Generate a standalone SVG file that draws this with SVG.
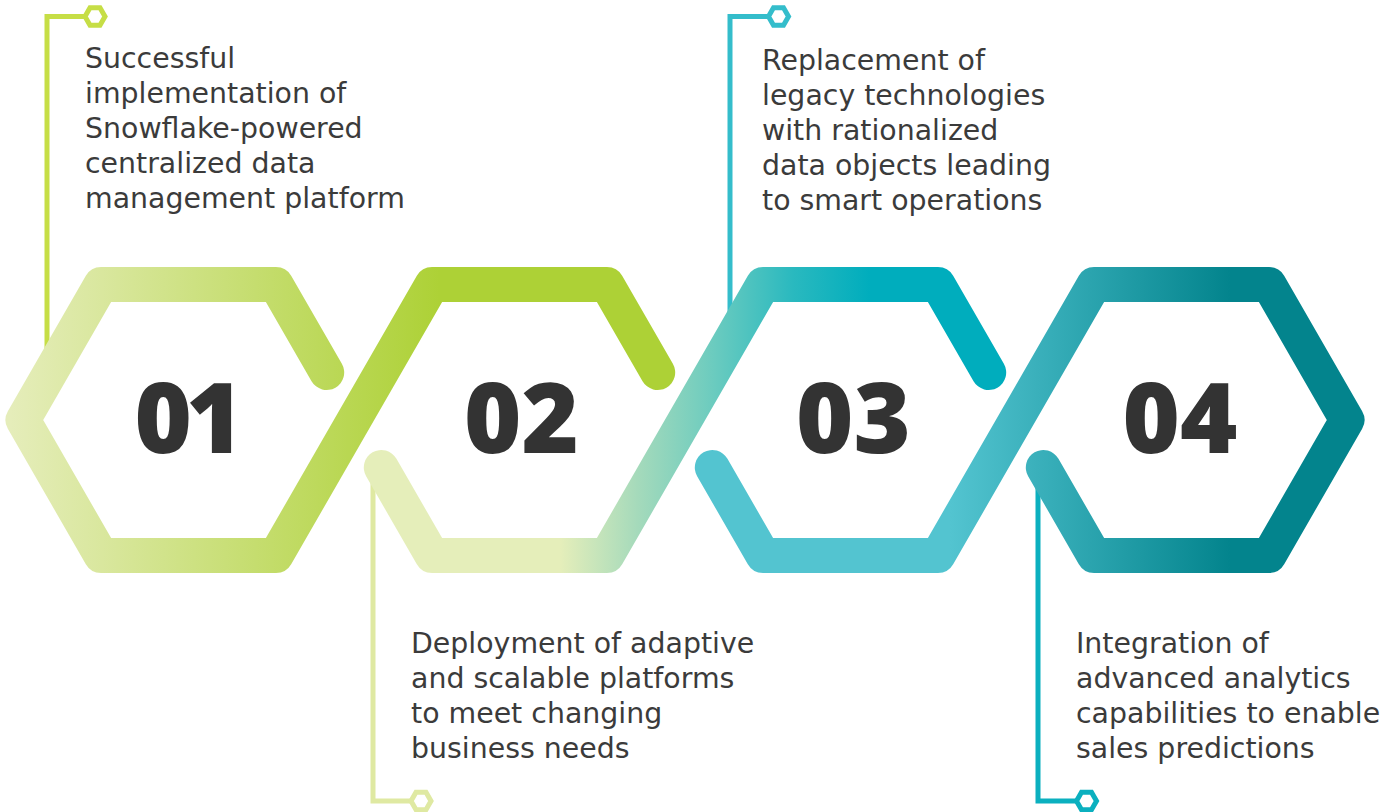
<svg xmlns="http://www.w3.org/2000/svg" width="1397" height="812" viewBox="0 0 1397 812">
<style>
.band{fill:none;stroke-width:35;stroke-linejoin:round;stroke-linecap:round}
.lead{fill:none;stroke-width:5}
.mk{fill:#fff;stroke-width:5}
.lbl{font-family:"DejaVu Sans","Liberation Sans",sans-serif;font-size:28.4px;fill:#3b3b3b}
.num{font-family:"Open Sans","Liberation Sans",sans-serif;font-size:98px;font-weight:800;fill:#333333;text-anchor:middle}
</style>
<defs>
<linearGradient id="gA" gradientUnits="userSpaceOnUse" x1="10" y1="0" x2="440" y2="0">
<stop offset="0" stop-color="#e5edba"/><stop offset="1" stop-color="#add136"/>
</linearGradient>
<linearGradient id="gB" gradientUnits="userSpaceOnUse" x1="560" y1="0" x2="870" y2="0">
<stop offset="0" stop-color="#e5eeba"/><stop offset="0.25" stop-color="#a5dabb"/><stop offset="0.5" stop-color="#6acbbf"/><stop offset="0.75" stop-color="#2ab9bf"/><stop offset="1" stop-color="#00adbd"/>
</linearGradient>
<linearGradient id="gC" gradientUnits="userSpaceOnUse" x1="950" y1="0" x2="1230" y2="0">
<stop offset="0" stop-color="#53c4d0"/><stop offset="1" stop-color="#03848d"/>
</linearGradient>
<path id="hx" d="M-10,0 L-5,-8.66 L5,-8.66 L10,0 L5,8.66 L-5,8.66 Z"/>
</defs>
<g id="connectors">
<path class="lead" stroke="#c6de46" d="M47,357 V16.5 H86"/>
<use href="#hx" class="mk" stroke="#c6de46" x="95" y="16.5"/>
<path class="lead" stroke="#dfe9a2" d="M373,472 V801 H412"/>
<use href="#hx" class="mk" stroke="#dfe9a2" x="421" y="801"/>
<path class="lead" stroke="#34bdcb" d="M730,318 V16.5 H769"/>
<use href="#hx" class="mk" stroke="#34bdcb" x="778.5" y="16.5"/>
<path class="lead" stroke="#0bb0bf" d="M1038,478 V801 H1077"/>
<use href="#hx" class="mk" stroke="#0bb0bf" x="1086.5" y="801"/>
</g>
<g id="ribbon">
<path class="band" stroke="url(#gA)" d="M326.7,372.5 L276,284.5 L101,284.5 L23,420 L101,555.5 L276,555.5 L432,284.5 L607,284.5 L657.7,372.5"/>
<path class="band" stroke="url(#gB)" d="M381.3,467.5 L432,555.5 L607,555.5 L763,284.5 L938,284.5 L988.7,372.5"/>
<path class="band" stroke="url(#gC)" d="M712.3,467.5 L763,555.5 L938,555.5 L1094,284.5 L1269,284.5 L1347,420 L1269,555.5 L1094,555.5 L1043.3,467.5"/>
</g>
<g id="node-01">
<text class="num" x="186" y="452.5" letter-spacing="-6">01</text>
<text class="lbl"><tspan x="85" y="68">Successful</tspan><tspan x="85" y="103">implementation of</tspan><tspan x="85" y="138">Snowflake-powered</tspan><tspan x="85" y="173">centralized data</tspan><tspan x="85" y="208">management platform</tspan></text>
</g>
<g id="node-02">
<text class="num" x="521.5" y="452.5">02</text>
<text class="lbl"><tspan x="411" y="653">Deployment of adaptive</tspan><tspan x="411" y="688">and scalable platforms</tspan><tspan x="411" y="723">to meet changing</tspan><tspan x="411" y="758">business needs</tspan></text>
</g>
<g id="node-03">
<text class="num" x="853.5" y="452.5">03</text>
<text class="lbl"><tspan x="762" y="70">Replacement of</tspan><tspan x="762" y="105">legacy technologies</tspan><tspan x="762" y="140">with rationalized</tspan><tspan x="762" y="175">data objects leading</tspan><tspan x="762" y="210">to smart operations</tspan></text>
</g>
<g id="node-04">
<text class="num" x="1180" y="452.5">04</text>
<text class="lbl"><tspan x="1076" y="653">Integration of</tspan><tspan x="1076" y="688">advanced analytics</tspan><tspan x="1076" y="723">capabilities to enable</tspan><tspan x="1076" y="758">sales predictions</tspan></text>
</g>
</svg>
